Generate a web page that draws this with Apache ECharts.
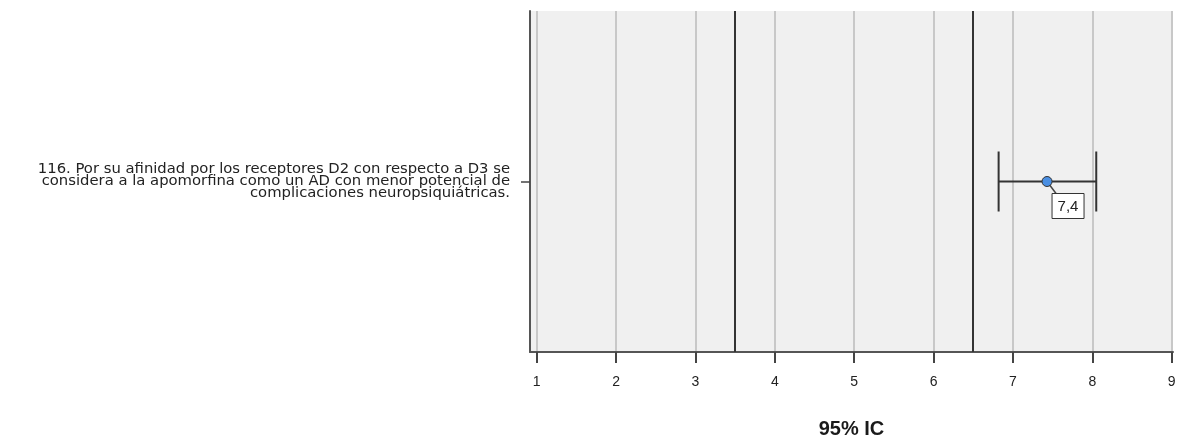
<!DOCTYPE html>
<html>
<head>
<meta charset="utf-8">
<title>95% IC</title>
<script src="https://cdn.jsdelivr.net/npm/echarts@6/dist/echarts.min.js"></script>
<style>
  html, body { margin: 0; padding: 0; background: #ffffff; }
  #chart { width: 1180px; height: 439px; }
</style>
</head>
<body>
<div id="chart"></div>
<script>
// Item statement (one category on the vertical axis)
const categories = [
  '116. Por su afinidad por los receptores D2 con respecto a D3 se\nconsidera a la apomorfina como un AD con menor potencial de\ncomplicaciones neuropsiquiátricas.'
];
// Mean and 95% confidence interval bounds
const means = [7.43];
const lowerBounds = [6.82];
const upperBounds = [8.05];
// Reference lines on the scale
const referenceLines = [3.5, 6.5];
// Scale tick labels
const tickValues = [1, 2, 3, 4, 5, 6, 7, 8, 9];
const axisTitle = '95% IC';

const seriesData = categories.map((c, i) => [i, means[i], lowerBounds[i], upperBounds[i]]);

function fmt(v) {
  return v.toFixed(1).replace('.', ',');
}

const chart = echarts.init(document.getElementById('chart'), null, { renderer: 'canvas' });

chart.setOption({
  animation: false,
  backgroundColor: '#ffffff',
  textStyle: { fontFamily: 'Liberation Sans, Arial, sans-serif' },
  grid: {
    left: 530, right: 7, top: 11, bottom: 87,
    outerBoundsMode: 'none',
    containLabel: false,
    show: true, backgroundColor: '#f0f0f0', borderWidth: 0
  },
  xAxis: {
    type: 'value',
    min: 0.916,
    max: 9.017,
    name: axisTitle,
    nameLocation: 'middle',
    nameGap: 67,
    nameTextStyle: { fontSize: 20, fontWeight: 'bold', color: '#1a1a1a', fontFamily: 'Liberation Sans, Arial, sans-serif' },
    axisLine: { show: true, onZero: false, lineStyle: { color: '#555555', width: 2 } },
    axisTick: { show: true, length: 11, customValues: tickValues, lineStyle: { color: '#444444', width: 2 } },
    axisLabel: {
      customValues: tickValues,
      margin: 23,
      fontSize: 14,
      color: '#222222',
      formatter: v => String(v)
    },
    splitLine: { show: true, lineStyle: { color: '#c8c8c8', width: 2 } }
  },
  yAxis: {
    type: 'category',
    data: categories,
    axisLine: { show: true, lineStyle: { color: '#555555', width: 2 } },
    axisTick: { show: true, alignWithLabel: true, length: 9, lineStyle: { color: '#444444', width: 1.5 } },
    axisLabel: {
      margin: 20,
      fontSize: 14.8,
      lineHeight: 12,
      color: '#222222',
      align: 'right',
      fontFamily: 'DejaVu Sans, sans-serif'
    },
    splitLine: { show: false }
  },
  series: [{
    type: 'custom',
    data: seriesData,
    encode: { x: [1, 2, 3], y: 0 },
    clip: false,
    renderItem: function (params, api) {
      const cat = api.value(0);
      const p = api.coord([api.value(1), cat]);
      const lo = api.coord([api.value(2), cat]);
      const hi = api.coord([api.value(3), cat]);
      const cap = 30;
      const barStyle = { stroke: '#333333', lineWidth: 2 };
      const boxX = p[0] + 5, boxY = p[1] + 12, boxW = 32, boxH = 25;
      return {
        type: 'group',
        children: [
          { type: 'line', shape: { x1: lo[0], y1: p[1], x2: hi[0], y2: p[1] }, style: barStyle },
          { type: 'line', shape: { x1: lo[0], y1: p[1] - cap, x2: lo[0], y2: p[1] + cap }, style: barStyle },
          { type: 'line', shape: { x1: hi[0], y1: p[1] - cap, x2: hi[0], y2: p[1] + cap }, style: barStyle },
          { type: 'line', shape: { x1: p[0], y1: p[1], x2: boxX + 4, y2: boxY }, style: { stroke: '#444444', lineWidth: 1.5 } },
          { type: 'rect', shape: { x: boxX, y: boxY, width: boxW, height: boxH },
            style: { fill: '#ffffff', stroke: '#333333', lineWidth: 1 } },
          { type: 'text', style: {
              x: boxX + boxW / 2, y: boxY + boxH / 2 + 1,
              text: fmt(api.value(1)),
              align: 'center', verticalAlign: 'middle',
              fontSize: 15, fill: '#222222',
              fontFamily: 'Liberation Sans, Arial, sans-serif'
          } },
          { type: 'circle', shape: { cx: p[0], cy: p[1], r: 5 },
            style: { fill: '#4a8fe3', stroke: '#333333', lineWidth: 1 } }
        ]
      };
    },
    markLine: {
      silent: true,
      symbol: 'none',
      label: { show: false },
      lineStyle: { color: '#333333', width: 2, type: 'solid' },
      data: referenceLines.map(v => ({ xAxis: v }))
    }
  }]
});
</script>
</body>
</html>
